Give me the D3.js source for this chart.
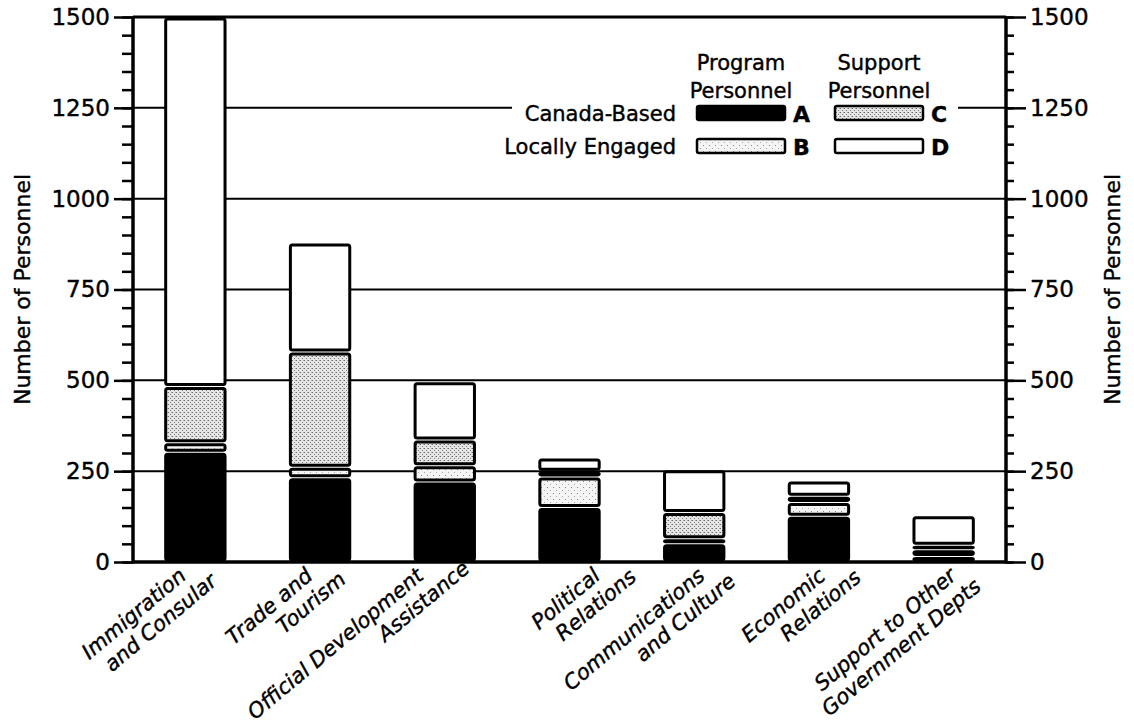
<!DOCTYPE html>
<html lang="en">
<head>
    <meta charset="UTF-8">
    <title>Personnel by Activity</title>
    <script src="https://d3js.org/d3.v7.min.js"></script>
    <style>
        body { margin: 0; background: #fff; }
        text { font-family: "DejaVu Sans", sans-serif; fill: #000; stroke: #000; stroke-width: 0.4; }
    </style>
</head>
<body>
    <svg id="chart" width="1134" height="724"></svg>

    <script>
        // Activity categories (two-line labels)
        const categories = ["Immigration and Consular", "Trade and Tourism", "Official Development Assistance",
            "Political Relations", "Communications and Culture", "Economic Relations", "Support to Other Government Depts"];
        const labelLines = [
            ["Immigration", "and Consular"],
            ["Trade and", "Tourism"],
            ["Official Development", "Assistance"],
            ["Political", "Relations"],
            ["Communications", "and Culture"],
            ["Economic", "Relations"],
            ["Support to Other", "Government Depts"]
        ];

        // Series values (number of personnel)
        const canadaProgram  = [302, 232, 220, 150, 50, 126, 15];   // A
        const localProgram   = [26, 29, 45, 84, 14, 38, 19];        // B
        const canadaSupport  = [155, 317, 71, 16, 72, 17, 12];      // C
        const localSupport   = [1020, 300, 160, 36, 118, 42, 81];   // D

        const yTicks = [0, 250, 500, 750, 1000, 1250, 1500];

        const svg = d3.select("#chart");
        const margin = { left: 133, right: 128, top: 17, bottom: 162 };
        const width = 1134, height = 724;

        const x = d3.scaleBand()
            .domain(categories)
            .range([margin.left, width - margin.right])
            .paddingInner(0.5)
            .paddingOuter(0.25);

        const y = d3.scaleLinear()
            .domain([0, 1500])
            .range([height - margin.bottom, margin.top])
            .clamp(true);

        // stipple patterns for the two shaded series
        const defs = svg.append("defs");
        const light = defs.append("pattern").attr("id", "stipple-light")
            .attr("width", 6).attr("height", 6).attr("patternUnits", "userSpaceOnUse");
        light.append("rect").attr("width", 6).attr("height", 6).attr("fill", "#f4f4f4");
        light.append("rect").attr("x", 1).attr("y", 1).attr("width", 1).attr("height", 1).attr("fill", "#888");
        light.append("rect").attr("x", 4).attr("y", 4).attr("width", 1).attr("height", 1).attr("fill", "#aaa");

        const gray = defs.append("pattern").attr("id", "stipple-gray")
            .attr("width", 4).attr("height", 4).attr("patternUnits", "userSpaceOnUse");
        gray.append("rect").attr("width", 4).attr("height", 4).attr("fill", "#e6e6e6");
        gray.append("rect").attr("x", 0).attr("y", 0).attr("width", 1).attr("height", 1).attr("fill", "#666");
        gray.append("rect").attr("x", 2).attr("y", 2).attr("width", 1).attr("height", 1).attr("fill", "#777");
        gray.append("rect").attr("x", 3).attr("y", 0).attr("width", 1).attr("height", 1).attr("fill", "#aaa");

        const keys = ["A", "B", "C", "D"];
        const fills = { A: "#000", B: "url(#stipple-light)", C: "url(#stipple-gray)", D: "#fff" };

        const rows = categories.map((c, i) => ({
            category: c,
            A: canadaProgram[i],
            B: localProgram[i],
            C: canadaSupport[i],
            D: localSupport[i]
        }));

        // horizontal grid lines
        svg.append("g")
            .selectAll("line")
            .data(yTicks.filter(v => v > 0 && v < 1500))
            .enter()
            .append("line")
            .attr("x1", margin.left).attr("x2", width - margin.right)
            .attr("y1", d => y(d)).attr("y2", d => y(d))
            .attr("stroke", "#000").attr("stroke-width", 2);

        // top frame
        svg.append("line")
            .attr("x1", margin.left).attr("x2", width - margin.right)
            .attr("y1", y(1500)).attr("y2", y(1500))
            .attr("stroke", "#000").attr("stroke-width", 3);

        // stacked bars
        const stacked = d3.stack().keys(keys)(rows);
        const gap = 4;
        svg.append("g")
            .selectAll("g")
            .data(stacked)
            .enter()
            .append("g")
            .attr("fill", d => fills[d.key])
            .selectAll("rect")
            .data(d => d)
            .enter()
            .append("rect")
            .attr("x", d => x(d.data.category) + 1.5)
            .attr("width", x.bandwidth() - 3)
            .attr("y", d => y(d[1]) + gap / 2)
            .attr("height", d => Math.max(0.5, y(d[0]) - y(d[1]) - gap))
            .attr("rx", 2)
            .attr("stroke", "#000")
            .attr("stroke-width", 3);

        // left axis: minor ticks every 50, major every 250
        const fmt = d3.format("d");
        const leftMinor = svg.append("g")
            .attr("transform", "translate(" + margin.left + ",0)")
            .call(d3.axisLeft(y).tickValues(d3.range(0, 1501, 50)).tickSize(11).tickFormat(""));
        const leftMajor = svg.append("g")
            .attr("transform", "translate(" + margin.left + ",0)")
            .call(d3.axisLeft(y).tickValues(yTicks).tickSize(19).tickPadding(4).tickFormat(fmt));

        const rightMinor = svg.append("g")
            .attr("transform", "translate(" + (width - margin.right) + ",0)")
            .call(d3.axisRight(y).tickValues(d3.range(0, 1501, 50)).tickSize(8).tickFormat(""));
        const rightMajor = svg.append("g")
            .attr("transform", "translate(" + (width - margin.right) + ",0)")
            .call(d3.axisRight(y).tickValues(yTicks).tickSize(20).tickPadding(4).tickFormat(fmt));

        [leftMinor, leftMajor, rightMinor, rightMajor].forEach(g => {
            g.select(".domain").remove();
            g.selectAll(".tick line").attr("stroke", "#000").attr("stroke-width", 2.5);
            g.selectAll(".tick text").attr("font-size", 23).attr("font-family", "DejaVu Sans").attr("fill", "#000");
        });

        // axis lines
        svg.append("line")
            .attr("x1", margin.left).attr("x2", margin.left)
            .attr("y1", y(1500)).attr("y2", y(0) + 1.5)
            .attr("stroke", "#000").attr("stroke-width", 3.5);
        svg.append("line")
            .attr("x1", width - margin.right).attr("x2", width - margin.right)
            .attr("y1", y(1500)).attr("y2", y(0) + 1.5)
            .attr("stroke", "#000").attr("stroke-width", 3.5);
        svg.append("line")
            .attr("x1", margin.left).attr("x2", width - margin.right)
            .attr("y1", y(0)).attr("y2", y(0))
            .attr("stroke", "#000").attr("stroke-width", 3.5);

        // axis titles
        svg.append("text")
            .attr("transform", "translate(30," + y(750) + ") rotate(-90)")
            .attr("text-anchor", "middle")
            .attr("font-size", 22)
            .text("Number of Personnel");
        svg.append("text")
            .attr("transform", "translate(1120," + y(750) + ") rotate(-90)")
            .attr("text-anchor", "middle")
            .attr("font-size", 22)
            .text("Number of Personnel");

        // category labels, rotated and italic
        const labelOffset = [20, 23, 40, 27, 20, 26, 12];
        const labelShift = [-8, -6, -20, 32, 12, 8, 14];
        const labels = svg.append("g")
            .selectAll("text")
            .data(categories)
            .enter()
            .append("text")
            .attr("transform", (d, i) => "translate(" + (x(d) + x.bandwidth() / 2 + labelShift[i]) + "," + (y(0) + 16) + ") rotate(-40)")
            .attr("text-anchor", "end")
            .attr("font-size", 21)
            .attr("font-style", "italic");
        labels.each(function (d, i) {
            const t = d3.select(this);
            t.append("tspan").attr("x", 0).attr("y", 0).text(labelLines[i][0]);
            t.append("tspan").attr("x", labelOffset[i]).attr("y", 24).text(labelLines[i][1]);
        });

        // legend
        const legend = svg.append("g");
        legend.append("rect")
            .attr("x", 512).attr("y", 98).attr("width", 446).attr("height", 62)
            .attr("fill", "#fff");

        const legendCols = [
            { head: ["Program", "Personnel"], x: 697 },
            { head: ["Support", "Personnel"], x: 835 }
        ];
        const legendRows = [{ name: "Canada-Based", y: 106 }, { name: "Locally Engaged", y: 139 }];
        const legendKeys = [["A", "C"], ["B", "D"]];
        const boxW = 88, boxH = 14;

        legendCols.forEach(c => {
            legend.append("text")
                .attr("x", c.x + boxW / 2).attr("y", 70)
                .attr("text-anchor", "middle").attr("font-size", 21)
                .text(c.head[0]);
            legend.append("text")
                .attr("x", c.x + boxW / 2).attr("y", 98)
                .attr("text-anchor", "middle").attr("font-size", 21)
                .text(c.head[1]);
        });

        legendRows.forEach((r, ri) => {
            legend.append("text")
                .attr("x", 676).attr("y", r.y + 15)
                .attr("text-anchor", "end").attr("font-size", 21)
                .text(r.name);
            legendCols.forEach((c, ci) => {
                const k = legendKeys[ri][ci];
                legend.append("rect")
                    .attr("x", c.x).attr("y", r.y)
                    .attr("width", boxW).attr("height", boxH)
                    .attr("rx", 2)
                    .attr("fill", fills[k])
                    .attr("stroke", "#000").attr("stroke-width", 2.5);
                legend.append("text")
                    .attr("x", c.x + boxW + 8).attr("y", r.y + 16)
                    .attr("font-size", 22).attr("font-weight", "bold")
                    .text(k);
            });
        });
    </script>
</body>
</html>
